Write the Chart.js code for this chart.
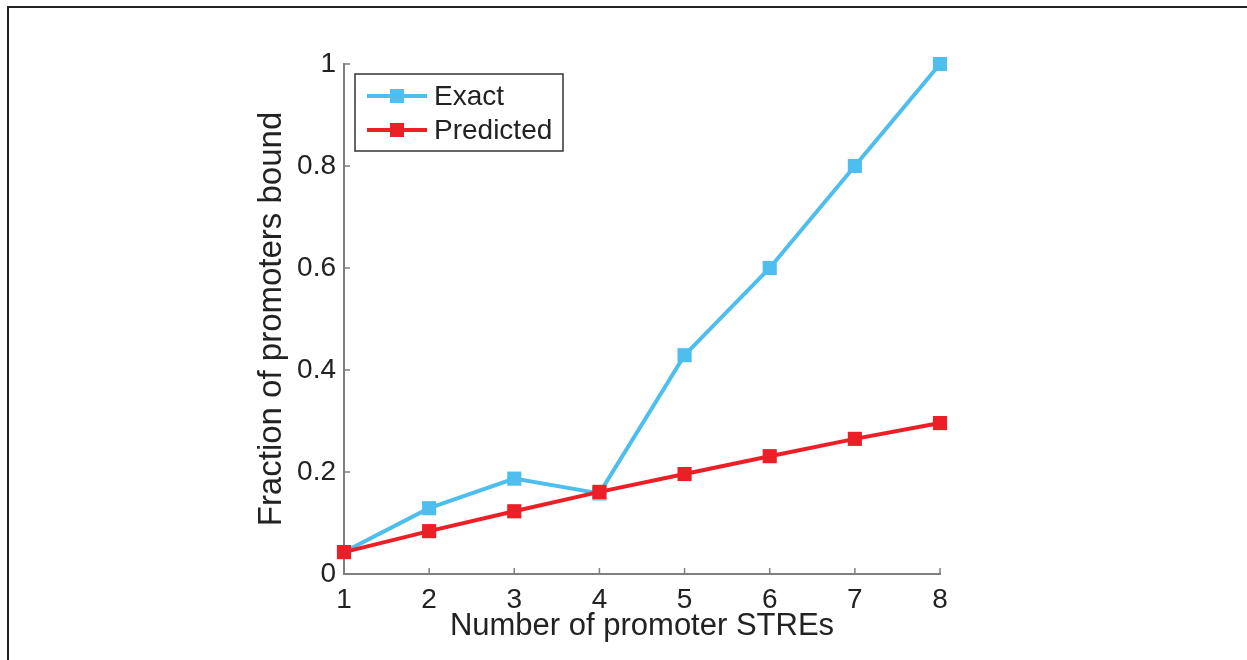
<!DOCTYPE html>
<html lang="en">
<head>
  <meta charset="UTF-8">
  <title>Fraction of promoters bound</title>
  <script src="https://cdn.jsdelivr.net/npm/chart.js"></script>
  <style>
    html, body { margin: 0; padding: 0; background: #fff; }
    #frame {
      position: absolute; left: 7px; top: 6px; width: 1300px; height: 700px;
      border-top: 2px solid #222; border-left: 2px solid #222;
    }
    #wrap { position: absolute; left: 0; top: 0; width: 1247px; height: 660px; }
  </style>
</head>
<body>
  <div id="frame"></div>
  <div id="wrap"><canvas id="grafico" width="1247" height="660"></canvas></div>

  <script>
    const numSTREs = [1, 2, 3, 4, 5, 6, 7, 8];
    const exato = [0.043, 0.129, 0.187, 0.158, 0.429, 0.600, 0.800, 1.000];
    const previsto = [0.043, 0.084, 0.123, 0.161, 0.196, 0.231, 0.265, 0.296];
    const ticksX = [1, 2, 3, 4, 5, 6, 7, 8];
    const ticksY = [0, 0.2, 0.4, 0.6, 0.8, 1];

    const fonte = '"Liberation Sans", Arial, Helvetica, sans-serif';
    const corTexto = '#222';
    const corEixo = '#7f7f7f';

    // ticks para dentro, como no matlab
    const ticksInternos = {
      id: 'ticksInternos',
      beforeDatasetsDraw(chart) {
        const { ctx, chartArea, scales } = chart;
        ctx.save();
        ctx.strokeStyle = corEixo;
        ctx.lineWidth = 1.5;
        ctx.beginPath();
        scales.y.ticks.forEach(t => {
          const y = scales.y.getPixelForValue(t.value);
          ctx.moveTo(chartArea.left, y);
          ctx.lineTo(chartArea.left + 6, y);
        });
        scales.x.ticks.forEach(t => {
          const x = scales.x.getPixelForValue(t.value);
          ctx.moveTo(x, chartArea.bottom);
          ctx.lineTo(x, chartArea.bottom - 6);
        });
        ctx.stroke();
        ctx.restore();
      }
    };

    // legenda em caixa com linha + marcador
    const legendaCaixa = {
      id: 'legendaCaixa',
      afterDatasetsDraw(chart) {
        const { ctx, chartArea } = chart;
        const bx = chartArea.left + 11, by = chartArea.top + 10;
        const w = 208, h = 77;
        ctx.save();
        ctx.fillStyle = '#fff';
        ctx.fillRect(bx, by, w, h);
        ctx.strokeStyle = '#333';
        ctx.lineWidth = 1.5;
        ctx.strokeRect(bx, by, w, h);
        ctx.font = '28px ' + fonte;
        ctx.textBaseline = 'middle';
        const ordem = [0, 1];
        ordem.forEach((i, k) => {
          const ds = chart.data.datasets[i];
          const y = by + 22 + k * 34;
          ctx.strokeStyle = ds.borderColor;
          ctx.lineWidth = 4;
          ctx.beginPath();
          ctx.moveTo(bx + 12, y);
          ctx.lineTo(bx + 72, y);
          ctx.stroke();
          ctx.fillStyle = ds.borderColor;
          ctx.fillRect(bx + 42 - 7, y - 7, 14, 14);
          ctx.fillStyle = corTexto;
          ctx.fillText(ds.label, bx + 79, y + 1);
        });
        ctx.restore();
      }
    };

    new Chart(document.getElementById('grafico').getContext('2d'), {
      type: 'line',
      data: {
        datasets: [
          {
            label: 'Exact',
            data: numSTREs.map((x, i) => ({ x, y: exato[i] })),
            borderColor: '#4dbeee',
            backgroundColor: '#4dbeee',
            borderWidth: 4,
            pointStyle: 'rect',
            pointRadius: 10,
            pointBorderWidth: 0,
            clip: false,
            order: 1
          },
          {
            label: 'Predicted',
            data: numSTREs.map((x, i) => ({ x, y: previsto[i] })),
            borderColor: '#ec1f26',
            backgroundColor: '#ec1f26',
            borderWidth: 4,
            pointStyle: 'rect',
            pointRadius: 10,
            pointBorderWidth: 0,
            clip: false,
            order: 0
          }
        ]
      },
      options: {
        responsive: false,
        animation: false,
        layout: { padding: { top: 64, right: 307, left: 0, bottom: 0 } },
        plugins: {
          legend: { display: false },
          tooltip: { enabled: false }
        },
        scales: {
          x: {
            type: 'linear',
            min: 1,
            max: 8,
            afterBuildTicks: s => { s.ticks = ticksX.map(v => ({ value: v })); },
            afterFit: s => { s.height = 86; },
            grid: { display: false, drawTicks: false },
            border: { display: true, color: corEixo, width: 2 },
            ticks: { color: corTexto, font: { family: fonte, size: 28 }, padding: 9, maxRotation: 0 },
            title: {
              display: true,
              text: 'Number of promoter STREs',
              color: corTexto,
              font: { family: fonte, size: 31 },
              padding: { top: 0, bottom: 15 }
            }
          },
          y: {
            type: 'linear',
            min: 0,
            max: 1,
            afterBuildTicks: s => { s.ticks = ticksY.map(v => ({ value: v })); },
            afterFit: s => { s.width = 344; },
            grid: { display: false, drawTicks: false },
            border: { display: true, color: corEixo, width: 2 },
            ticks: {
              color: corTexto,
              font: { family: fonte, size: 28 },
              padding: 8,
              callback: v => String(Math.round(v * 10) / 10)
            },
            title: {
              display: true,
              text: 'Fraction of promoters bound',
              color: corTexto,
              font: { family: fonte, size: 33 },
              padding: { top: 252, bottom: 0 }
            }
          }
        }
      },
      plugins: [ticksInternos, legendaCaixa]
    });
  </script>
</body>
</html>
